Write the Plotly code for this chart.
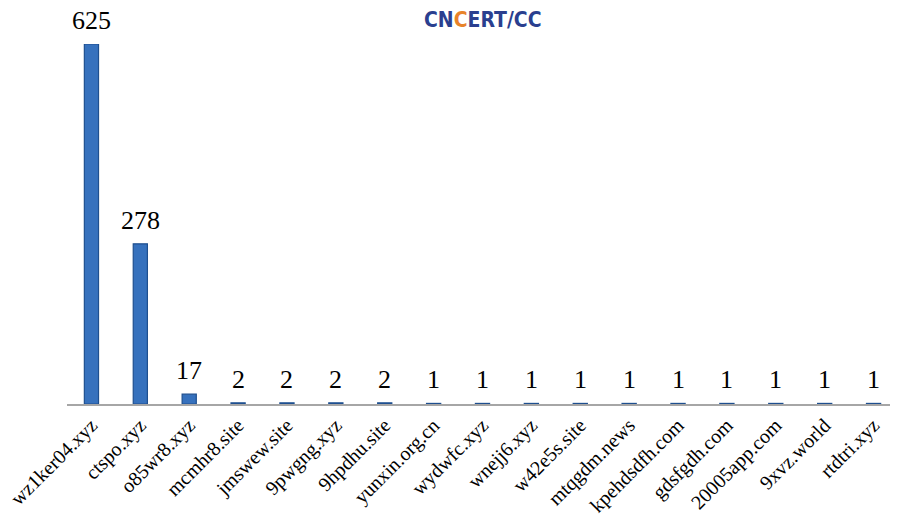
import plotly.graph_objects as go

domains = ["wz1ker04.xyz", "ctspo.xyz", "o85wr8.xyz", "mcmhr8.site", "jmswew.site",
           "9pwgng.xyz", "9hpdhu.site", "yunxin.org.cn", "wydwfc.xyz", "wnejj6.xyz",
           "w42e5s.site", "mtqgdm.news", "kpehdsdfh.com", "gdsfgdh.com", "20005app.com",
           "9xvz.world", "rtdtri.xyz"]
counts = [625, 278, 17, 2, 2, 2, 2, 1, 1, 1, 1, 1, 1, 1, 1, 1, 1]

# page body has an 8px margin; compensate so the figure lands where the reference is
W, H = 890, 511
L, T, B = 59, 36, 115

fig = go.Figure()
fig.add_trace(go.Bar(
    x=domains, y=counts,
    cliponaxis=False,
    marker=dict(color="#3671bd", line=dict(color="#1e4f8f", width=1.2)),
    width=0.29,
))

for d, v in zip(domains, counts):
    fig.add_annotation(
        x=d, y=v, text=str(v), showarrow=False, yanchor="bottom", yshift=7,
        font=dict(family="Liberation Serif", size=26, color="#000000"),
    )

fig.update_layout(
    width=W, height=H,
    margin=dict(l=L, r=0, t=T, b=B),
    paper_bgcolor="white", plot_bgcolor="white",
    showlegend=False,
    xaxis=dict(tickangle=-45, showline=True, linecolor="#a6a6a6", linewidth=1.5,
               ticks="", showgrid=False, automargin=False,
               tickfont=dict(family="Liberation Serif", size=20, color="#000000")),
    yaxis=dict(range=[0, 625], visible=False, showgrid=False, zeroline=False,
               automargin=False),
)

fig.add_annotation(
    xref="paper", yref="paper", x=(483 - 67) / 831, y=1 + (44 - 20) / 360,
    yanchor="middle", xanchor="center",
    text="<b>CN<span style='color:#e8832a'>C</span>ERT/CC</b>", showarrow=False,
    font=dict(family="Liberation Sans Narrow, DejaVu Sans Condensed, Liberation Sans",
              size=21, color="#2a3f8f"),
)

fig.write_html("out.html")
